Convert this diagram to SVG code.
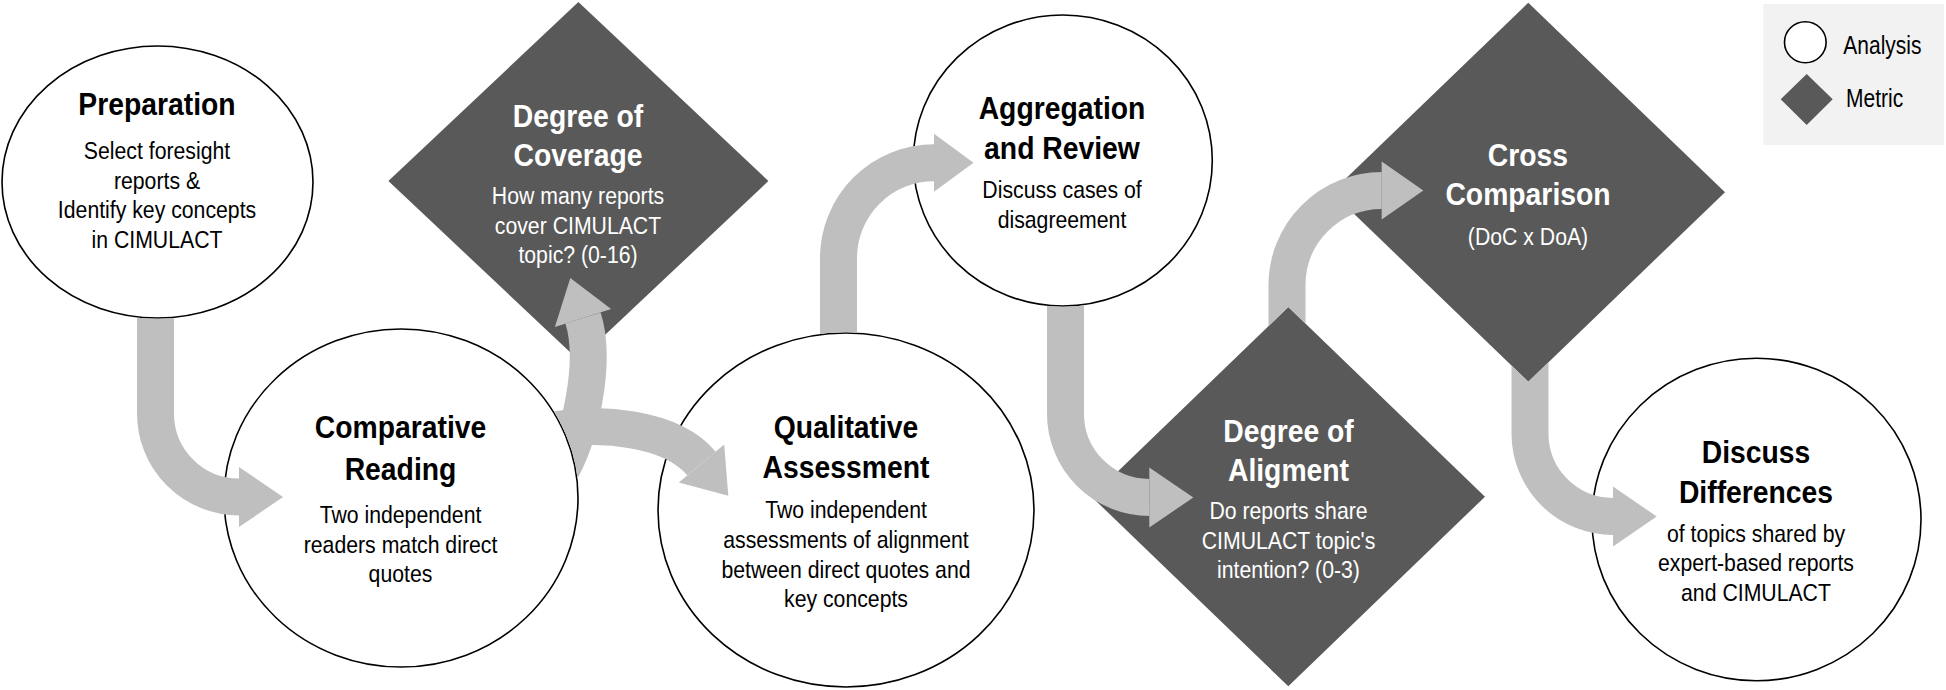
<svg xmlns="http://www.w3.org/2000/svg" width="1946" height="690" viewBox="0 0 1946 690">
<style>
.c{fill:#fff;stroke:#000;stroke-width:1.6}
.d{fill:#595959}
.sh{fill:none;stroke:#bfbfbf;stroke-width:37}
.hd{fill:#bfbfbf}
text{font-family:"Liberation Sans",Arial,sans-serif;text-anchor:middle;fill:#000}
.t{font-size:32px;font-weight:bold}
.b{font-size:24px}
.w text{fill:#fff}
.lg text{font-size:25px;text-anchor:start}
</style>
<defs>
<clipPath id="clipPrep"><path clip-rule="evenodd" d="M0,0H1946V690H0Z M1.2,182 a156.3,136.8 0 1,0 312.6,0 a156.3,136.8 0 1,0 -312.6,0Z"/></clipPath>
<clipPath id="clipComp"><path clip-rule="evenodd" d="M0,0H1946V690H0Z M223.2,498 a177.8,169.8 0 1,0 355.6,0 a177.8,169.8 0 1,0 -355.6,0Z"/></clipPath>
<clipPath id="clipQual"><path clip-rule="evenodd" d="M0,0H1946V690H0Z M657.2,510 a188.8,177.8 0 1,0 377.6,0 a188.8,177.8 0 1,0 -377.6,0Z"/></clipPath>
<clipPath id="clipAggr"><path clip-rule="evenodd" d="M0,0H1946V690H0Z M912.5,160.5 a150.3,146.3 0 1,0 300.6,0 a150.3,146.3 0 1,0 -300.6,0Z"/></clipPath>
<clipPath id="clipAlig"><path clip-rule="evenodd" d="M0,0H1946V690H0Z M1288.3,307.1 L1485,496.7 L1288.3,686.3 L1091.6,496.7Z"/></clipPath>
<clipPath id="clipCross"><path clip-rule="evenodd" d="M0,0H1946V690H0Z M1528.3,2.7 L1725,192.2 L1528.3,381.7 L1331.6,192.2Z"/></clipPath>
</defs>
<rect width="1946" height="690" fill="#fff"/>

<g id="legend" class="lg">
<rect x="1763.3" y="4" width="180.7" height="141" fill="#f2f2f2"/>
<ellipse class="c" cx="1805.3" cy="42.3" rx="20.8" ry="20.5"/>
<polygon class="d" points="1806.7,74 1832.7,99.3 1806.7,125 1780.7,99.3"/>
<text transform="translate(1843.3,54.3) scale(0.84,1)">Analysis</text>
<text transform="translate(1846,107.3) scale(0.84,1)">Metric</text>
</g>

<g id="preparation">
<ellipse class="c" cx="157.5" cy="182" rx="155.5" ry="136"/>
<g transform="translate(157,0) scale(0.885,1)">
<text class="t" x="0" y="115">Preparation</text>
<text class="b" x="0" y="159.5">Select foresight</text>
<text class="b" x="0" y="189">reports &amp;</text>
<text class="b" x="0" y="218.3">Identify key concepts</text>
<text class="b" x="0" y="247.6">in CIMULACT</text>
</g>
</g>

<g id="comparative-reading">
<ellipse class="c" cx="401" cy="498" rx="177" ry="169"/>
<g transform="translate(400.5,0) scale(0.885,1)">
<text class="t" x="0" y="438">Comparative</text>
<text class="t" x="0" y="480">Reading</text>
<text class="b" x="0" y="522.7">Two independent</text>
<text class="b" x="0" y="553">readers match direct</text>
<text class="b" x="0" y="581.7">quotes</text>
</g>
</g>

<g id="degree-of-coverage" class="w">
<polygon class="d" points="578.4,2 768.4,181 578.4,360 388.4,181"/>
<g transform="translate(578,0) scale(0.885,1)">
<text class="t" x="0" y="126.7">Degree of</text>
<text class="t" x="0" y="165.7">Coverage</text>
<text class="b" x="0" y="204">How many reports</text>
<text class="b" x="0" y="234">cover CIMULACT</text>
<text class="b" x="0" y="263">topic? (0-16)</text>
</g>
</g>

<g id="qualitative-assessment">
<ellipse class="c" cx="846" cy="510" rx="188" ry="177"/>
<g transform="translate(846,0) scale(0.885,1)">
<text class="t" x="0" y="438.3">Qualitative</text>
<text class="t" x="0" y="478.3">Assessment</text>
<text class="b" x="0" y="518.3">Two independent</text>
<text class="b" x="0" y="548.3">assessments of alignment</text>
<text class="b" x="0" y="578.3">between direct quotes and</text>
<text class="b" x="0" y="606.7">key concepts</text>
</g>
</g>

<g id="aggregation-and-review">
<ellipse class="c" cx="1062.8" cy="160.5" rx="149.5" ry="145.5"/>
<g transform="translate(1062,0) scale(0.885,1)">
<text class="t" x="0" y="119.3">Aggregation</text>
<text class="t" x="0" y="159.3">and Review</text>
<text class="b" x="0" y="198.3">Discuss cases of</text>
<text class="b" x="0" y="228.3">disagreement</text>
</g>
</g>

<g id="degree-of-aligment" class="w">
<polygon class="d" points="1288.3,307.1 1485,496.7 1288.3,686.3 1091.6,496.7"/>
<g transform="translate(1288.5,0) scale(0.885,1)">
<text class="t" x="0" y="441.7">Degree of</text>
<text class="t" x="0" y="480.7">Aligment</text>
<text class="b" x="0" y="519.3">Do reports share</text>
<text class="b" x="0" y="549.3">CIMULACT topic's</text>
<text class="b" x="0" y="578.3">intention? (0-3)</text>
</g>
</g>

<g id="cross-comparison" class="w">
<polygon class="d" points="1528.3,2.7 1725,192.2 1528.3,381.7 1331.6,192.2"/>
<g transform="translate(1528,0) scale(0.885,1)">
<text class="t" x="0" y="165.7">Cross</text>
<text class="t" x="0" y="205">Comparison</text>
<text class="b" x="0" y="245">(DoC x DoA)</text>
</g>
</g>

<g id="discuss-differences">
<ellipse class="c" cx="1756.5" cy="519.5" rx="164.5" ry="161.2"/>
<g transform="translate(1756,0) scale(0.885,1)">
<text class="t" x="0" y="462.7">Discuss</text>
<text class="t" x="0" y="503.3">Differences</text>
<text class="b" x="0" y="541.7">of topics shared by</text>
<text class="b" x="0" y="570.7">expert-based reports</text>
<text class="b" x="0" y="600.7">and CIMULACT</text>
</g>
</g>

<g id="connectors">
<g id="arrow-prep-comp" clip-path="url(#clipPrep)">
<path class="sh" d="M155.5,300 V413.5 A83.5,83.5 0 0 0 239,497"/>
<polygon class="hd" points="239,467 283,497 239,527"/>
</g>
<g id="arrow-comp-branch" clip-path="url(#clipComp)">
<path class="sh" d="M558,475 C580,440 597,362 583,318"/>
<polygon class="hd" points="611.1,309.1 570.3,278 554.9,326.9"/>
<path class="sh" d="M545,432 C600,420 672,428 701.5,463.5"/>
<polygon class="hd" points="724.2,444.6 728.3,495.8 678.8,482.4"/>
</g>
<g id="arrow-qual-aggr" clip-path="url(#clipQual)">
<path class="sh" d="M838.5,360 V258.2 A95.5,95.5 0 0 1 934,162.7"/>
<polygon class="hd" points="934,133.7 973.5,162.7 934,191.7"/>
</g>
<g id="arrow-aggr-alig" clip-path="url(#clipAggr)">
<path class="sh" d="M1065.5,290 V413.7 A83.8,83.8 0 0 0 1149.3,497.5"/>
<polygon class="hd" points="1149.3,467.5 1193.3,497.5 1149.3,527.5"/>
</g>
<g id="arrow-alig-cross" clip-path="url(#clipAlig)">
<path class="sh" d="M1287,340 V285.2 A94.7,94.7 0 0 1 1381.7,190.5"/>
<polygon class="hd" points="1381.7,161.5 1423.3,190.5 1381.7,219.5"/>
</g>
<g id="arrow-cross-disc" clip-path="url(#clipCross)">
<path class="sh" d="M1530,350 V433.5 A83,83 0 0 0 1613,516.5"/>
<polygon class="hd" points="1613,486.5 1656.7,516.5 1613,546.5"/>
</g>
</g>
</svg>
